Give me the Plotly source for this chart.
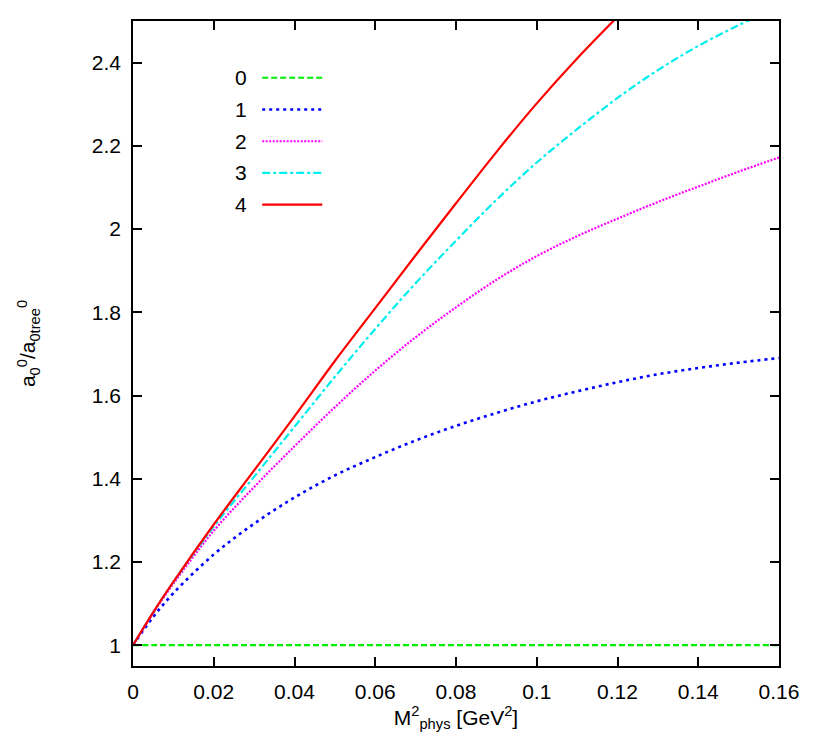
import plotly.graph_objects as go

# M_phys^2 in GeV^2
m2 = [0.0, 0.005, 0.01, 0.02, 0.03, 0.04, 0.05, 0.06, 0.07, 0.08,
      0.09, 0.10, 0.11, 0.12, 0.13, 0.14, 0.15, 0.16]

ratio_0 = [1.0] * len(m2)
ratio_1 = [1.0, 1.068, 1.125, 1.218, 1.292, 1.355, 1.408, 1.452, 1.492, 1.527,
           1.558, 1.586, 1.61, 1.632, 1.651, 1.666, 1.679, 1.69]
ratio_2 = [1.0, 1.077, 1.148, 1.275, 1.38, 1.478, 1.572, 1.66, 1.74, 1.812,
           1.878, 1.935, 1.983, 2.025, 2.065, 2.102, 2.138, 2.172]
ratio_3 = [1.0, 1.079, 1.152, 1.285, 1.405, 1.525, 1.645, 1.76, 1.87, 1.972,
           2.07, 2.16, 2.24, 2.315, 2.382, 2.44, 2.49, 2.535]
ratio_4 = [1.0, 1.079, 1.152, 1.29, 1.42, 1.55, 1.683, 1.81, 1.937, 2.062,
           2.185, 2.302, 2.41, 2.51]

names = ["0", "1", "2", "3", "4"]
series = [ratio_0, ratio_1, ratio_2, ratio_3, ratio_4]
colors = ["#00ee00", "#0000ff", "#ff00ff", "#00eeee", "#ff0000"]
dashes = ["6px,3px", "3px,4px", "2px,1.5px", "8px,3px,3px,3px", "solid"]
widths = [2.2, 2.6, 2.2, 2.2, 2.2]

font = "Liberation Sans, Arial, sans-serif"
fsize = 21

fig = go.Figure()
for name, ys, col, dash, w in zip(names, series, colors, dashes, widths):
    fig.add_trace(go.Scatter(
        x=m2[:len(ys)], y=ys, mode="lines", name=name,
        line=dict(color=col, width=w, dash=dash, shape="spline"),
        showlegend=False,
    ))

# gnuplot-style key: label on the left, line sample on the right
for i, (name, col, dash, w) in enumerate(zip(names, colors, dashes, widths)):
    yk = 0.912 - i * 0.0492
    fig.add_annotation(x=0.18, y=yk, xref="paper", yref="paper", text=name,
                       showarrow=False, xanchor="right", yanchor="middle",
                       font=dict(size=fsize, color="black", family=font))
    fig.add_shape(type="line", xref="paper", yref="paper",
                  x0=0.2, x1=0.293, y0=yk, y1=yk,
                  line=dict(color=col, width=w, dash=dash))

axis_common = dict(
    showline=True, linecolor="black", linewidth=1.5, mirror="ticks",
    ticks="inside", ticklen=9, tickwidth=1.5, tickcolor="black",
    showgrid=False, zeroline=False,
    tickfont=dict(size=fsize, color="black", family=font),
)

fig.update_xaxes(range=[0, 0.16], dtick=0.02, tick0=0,
                 ticklabelstandoff=6,
                 title=dict(text="M<sup>2</sup><sub>phys</sub> [GeV<sup>2</sup>]",
                            font=dict(size=fsize, color="black", family=font),
                            standoff=8),
                 **axis_common)
fig.update_yaxes(range=[0.95, 2.5], dtick=0.2, tick0=1,
                 ticklabelstandoff=6,
                 title=dict(text="a<sub>0</sub><sup>0</sup>/a<sub>0tree</sub><sup>0</sup>",
                            font=dict(size=fsize, color="black", family=font),
                            standoff=50),
                 **axis_common)

# the page adds an 8px body margin, so the plot box is shifted back by 8px
fig.update_layout(
    width=830, height=740,
    margin=dict(l=125, r=59, t=11, b=82),
    plot_bgcolor="white", paper_bgcolor="white",
    font=dict(family=font, color="black"),
)

fig.write_html("out.html")
